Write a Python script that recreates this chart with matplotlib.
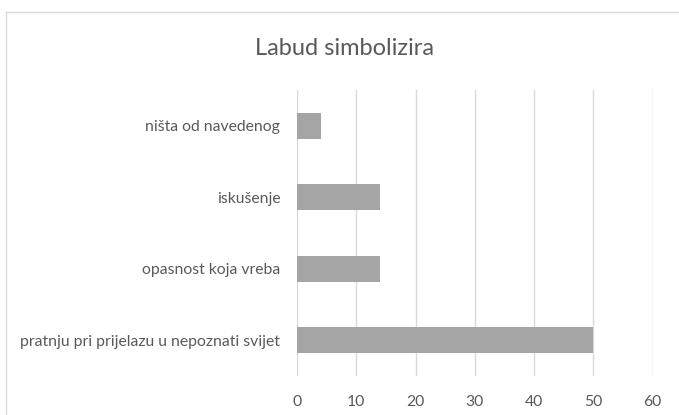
"""Labud simbolizira - horizontalni stupčasti graf."""
import matplotlib
matplotlib.use("Agg")
import matplotlib.pyplot as plt
from matplotlib.lines import Line2D

categories = ["pratnju pri prijelazu u nepoznati svijet", "opasnost koja vreba",
              "iskušenje", "ništa od navedenog"]
values = [50, 14, 14, 4]
xticks = [0, 10, 20, 30, 40, 50, 60]

plt.rcParams["font.family"] = ["Lato", "DejaVu Sans"]
text_color = "#595959"
grid_color = "#d9d9d9"

fig = plt.figure(figsize=(6.79, 4.15), dpi=100)
ax = fig.add_axes([0.4374, 0.094, 0.5239, 0.689])

ax.barh(range(len(categories)), values, height=0.36, color="#a5a5a5", zorder=3)
ax.set_xlim(0, 60)
ax.set_ylim(-0.5, len(categories) - 0.5)
ax.set_xticks(xticks)
ax.set_yticks(range(len(categories)))
ax.set_yticklabels(categories)
ax.tick_params(axis="both", length=0, colors=text_color, labelsize=11.3)
ax.tick_params(axis="y", pad=12)
ax.tick_params(axis="x", pad=14)
ax.grid(axis="x", color=grid_color, linewidth=1, zorder=0)
for s in ax.spines.values():
    s.set_visible(False)

fig.text(0.508, 0.884, "Labud simbolizira", ha="center", va="center",
         fontsize=17, color=text_color)

# okvir grafikona (lijevi i gornji rub)
fig.add_artist(Line2D([0.009, 0.009], [0, 0.971], color=grid_color, lw=1,
                      transform=fig.transFigure))
fig.add_artist(Line2D([0.009, 1], [0.971, 0.971], color=grid_color, lw=1,
                      transform=fig.transFigure))

fig.savefig("out.png", dpi=100)
